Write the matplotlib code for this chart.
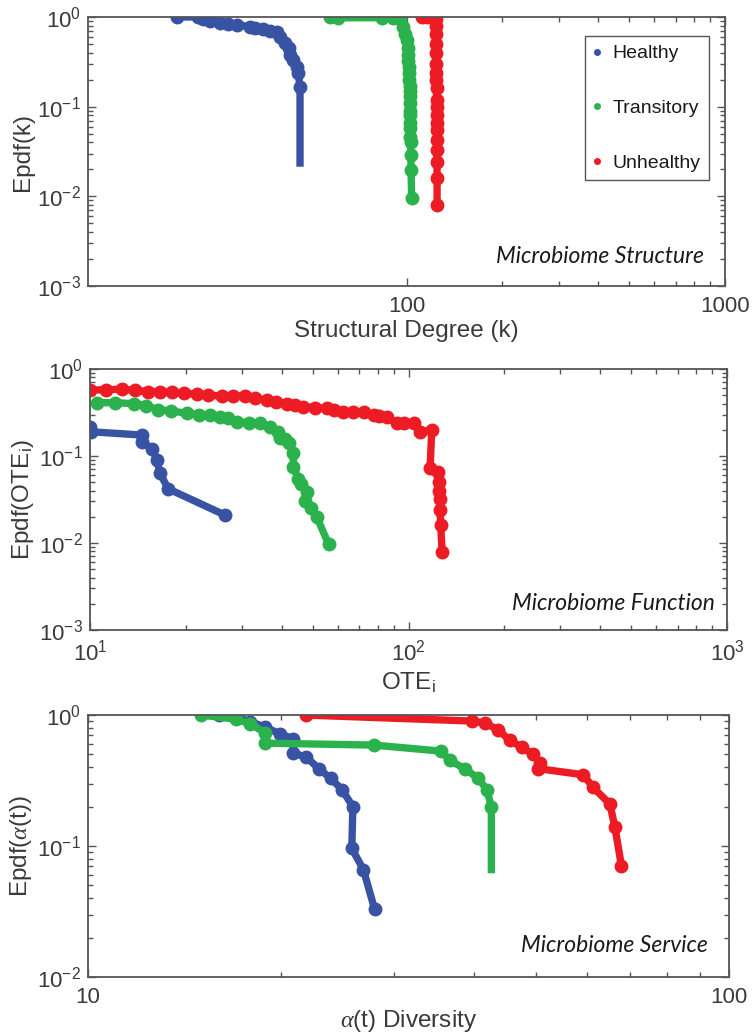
import matplotlib
matplotlib.use("Agg")
import matplotlib.pyplot as plt
from matplotlib.lines import Line2D
from matplotlib.ticker import FixedLocator, NullFormatter

plt.rcParams['font.family'] = ['Liberation Sans', 'DejaVu Sans']
plt.rcParams['mathtext.fontset'] = 'custom'
plt.rcParams['mathtext.rm'] = 'Liberation Sans'
plt.rcParams['mathtext.it'] = 'Liberation Serif:italic'
plt.rcParams['mathtext.bf'] = 'Liberation Sans:bold'

# DATA
# structure panel: Epdf of structural degree
s_healthy_x = [19.0, 22.2, 23.0, 24.2, 26.0, 27.5, 29.3, 32.3, 33.5, 35.5, 37.3, 39.1, 40.1, 41.6, 42.6, 43.1, 44.1, 45.2, 45.7, 46.3, 46.3]
s_healthy_y = [1.0, 1.0, 0.95, 0.91, 0.865, 0.84, 0.815, 0.78, 0.76, 0.73, 0.70, 0.68, 0.60, 0.51, 0.45, 0.38, 0.33, 0.28, 0.235, 0.167, 0.0214]
s_trans_x = [57.5, 61.1, 83.6, 91.0, 95.4, 97.8, 99.0, 100.2, 100.8, 101.2, 101.4, 101.6, 101.8, 102.0, 102.2, 102.2, 102.3,
             102.4, 102.5, 102.6, 102.7, 102.8, 102.9, 103.0, 103.2, 103.3, 103.8]
s_trans_y = [1.0, 0.98, 0.98, 0.98, 0.95, 0.78, 0.65, 0.55, 0.45, 0.38, 0.32, 0.28, 0.24, 0.2, 0.17, 0.15, 0.13,
             0.11, 0.09, 0.08, 0.066, 0.058, 0.046, 0.04, 0.029, 0.0195, 0.0096]
s_unh_x = [111.6, 116.0, 121.0, 123.5, 124.0, 124.0, 124.0, 124.0, 124.0, 124.0, 124.0, 124.2, 124.2, 124.3, 124.4, 124.5,
           124.5, 124.5, 124.5, 124.6, 124.7, 124.7]
s_unh_y = [1.0, 1.0, 1.0, 0.95, 0.8, 0.65, 0.5, 0.4, 0.3, 0.24, 0.2, 0.16, 0.12, 0.1, 0.08, 0.066, 0.055, 0.043, 0.033,
           0.024, 0.016, 0.008]

# function panel: Epdf of OTE_i
f_healthy_x = [10.0, 10.1, 14.6, 14.6, 15.7, 16.2, 16.6, 17.6, 26.5]
f_healthy_y = [0.214, 0.19, 0.174, 0.146, 0.12, 0.09, 0.063, 0.042, 0.021]
f_trans_x = [10.5, 12.0, 13.7, 15.0, 16.4, 18.0, 20.1, 22.0, 23.8, 25.6, 27.2, 28.9, 31.5, 34.2, 36.7, 39.0, 39.5, 41.0,
             42.0, 43.5, 43.5, 45.1, 46.0, 47.9, 47.3, 49.5, 51.5, 56.1]
f_trans_y = [0.41, 0.41, 0.40, 0.38, 0.34, 0.33, 0.31, 0.30, 0.296, 0.283, 0.27, 0.248, 0.24, 0.237, 0.217, 0.19, 0.16, 0.155,
             0.14, 0.107, 0.075, 0.055, 0.048, 0.039, 0.03, 0.025, 0.020, 0.0097]
f_unh_x = [10.0, 11.2, 12.6, 13.8, 15.2, 16.6, 18.1, 19.8, 21.6, 23.5, 25.9, 28.2, 30.7, 33.0, 35.9, 38.5, 41.5, 44.0, 46.8,
           51.0, 55.3, 58.5, 62.5, 67.0, 72.3, 77.7, 81.0, 85.5, 91.9, 97.0, 103.8, 108.7, 118.3,
           116.9, 124.1, 124.5, 124.8, 125.2, 125.6, 126.2, 127.5]
f_unh_y = [0.57, 0.58, 0.585, 0.57, 0.55, 0.55, 0.54, 0.53, 0.51, 0.50, 0.49, 0.49, 0.49, 0.46, 0.44, 0.42, 0.40, 0.385, 0.37,
           0.36, 0.353, 0.34, 0.32, 0.32, 0.32, 0.296, 0.29, 0.283, 0.237, 0.24, 0.237, 0.19, 0.2,
           0.072, 0.066, 0.05, 0.04, 0.032, 0.024, 0.016, 0.0079]

# service panel: Epdf of alpha diversity
v_healthy_x = [16.0, 17.0, 17.9, 18.9, 19.9, 20.9, 20.9, 21.9, 22.9, 23.9, 24.9, 25.9, 25.8, 26.9, 28.0]
v_healthy_y = [1.0, 0.97, 0.89, 0.81, 0.72, 0.66, 0.51, 0.48, 0.39, 0.33, 0.27, 0.20, 0.096, 0.066, 0.033]
v_trans_x = [15.0, 17.0, 17.9, 18.9, 18.9, 27.9, 35.6, 36.7, 38.7, 40.6, 41.9, 42.6, 42.6]
v_trans_y = [1.0, 0.93, 0.86, 0.73, 0.61, 0.59, 0.53, 0.45, 0.39, 0.33, 0.27, 0.20, 0.062]
v_unh_x = [21.9, 39.7, 41.6, 43.7, 45.5, 47.5, 49.5, 50.7, 50.4, 59.3, 61.4, 65.2, 66.4, 68.0]
v_unh_y = [1.0, 0.9, 0.87, 0.77, 0.64, 0.57, 0.50, 0.43, 0.39, 0.35, 0.28, 0.21, 0.14, 0.07]

labels = ['Healthy', 'Transitory', 'Unhealthy']
colors = ['#3953A4', '#2BB24C', '#ED1C24']
tc = '#3a3a3a'

fig = plt.figure(figsize=(7.53, 10.36), dpi=100)
ax1 = fig.add_axes([0.1169, 0.7239, 0.846, 0.2597])
ax2 = fig.add_axes([0.1195, 0.3919, 0.846, 0.2519])
ax3 = fig.add_axes([0.1169, 0.0569, 0.851, 0.2529])


def curve(ax, x, y, c, skip_last=False):
    idx = list(range(len(x) - 1)) if skip_last else list(range(len(x)))
    ax.plot(x, y, '-', color=c, lw=5.3, marker='o', ms=9, markevery=idx,
            solid_capstyle='butt', solid_joinstyle='round')


curve(ax1, s_healthy_x, s_healthy_y, colors[0], skip_last=True)
curve(ax1, s_trans_x, s_trans_y, colors[1])
curve(ax1, s_unh_x, s_unh_y, colors[2])

curve(ax2, f_healthy_x, f_healthy_y, colors[0])
curve(ax2, f_trans_x, f_trans_y, colors[1])
curve(ax2, f_unh_x, f_unh_y, colors[2])

curve(ax3, v_healthy_x, v_healthy_y, colors[0])
curve(ax3, v_trans_x, v_trans_y, colors[1], skip_last=True)
curve(ax3, v_unh_x, v_unh_y, colors[2])

for ax in (ax1, ax2, ax3):
    ax.set_xscale('log')
    ax.set_yscale('log')
    for s in ax.spines.values():
        s.set_color('#555555')
        s.set_linewidth(1.3)
    ax.tick_params(which='both', direction='in', top=True, right=True,
                   colors='#555555', labelcolor=tc, labelsize=16, width=1.0)
    ax.tick_params(which='major', length=6)
    ax.tick_params(which='minor', length=3.5)
    ax.tick_params(axis='x', which='both', pad=7)
    ax.tick_params(axis='y', which='both', pad=5)

# top panel
ax1.set_xlim(10, 1000)
ax1.set_ylim(1e-3, 1)
ax1.set_xticks([100, 1000], labels=['100', '1000'])
ax1.xaxis.set_minor_locator(FixedLocator([200, 300, 400, 500, 600, 700, 800, 900]))
ax1.xaxis.set_minor_formatter(NullFormatter())
ax1.set_yticks([1e-3, 1e-2, 1e-1, 1])
ax1.set_xlabel('Structural Degree (k)', fontsize=17.5, color=tc, labelpad=2)
ax1.set_ylabel('Epdf(k)', fontsize=17.5, color=tc, labelpad=2)
ax1.text(0.967, 0.11, 'Microbiome Structure', transform=ax1.transAxes, ha='right', va='center',
         fontsize=16.5, style='italic', family='Lato', color='#1a1a1a')

handles = [Line2D([], [], ls='none', marker='o', ms=4, color=c) for c in colors]
leg = ax1.legend(handles, labels, loc='upper right', bbox_to_anchor=(0.975, 0.929),
                 fontsize=14, labelspacing=1.9, handlelength=0.3, handletextpad=0.64,
                 borderpad=0.45, borderaxespad=0, fancybox=False, framealpha=1, edgecolor='#555555')
leg.get_frame().set_linewidth(1.0)
for t in leg.get_texts():
    t.set_color('#1a1a1a')

# middle panel
ax2.set_xlim(10, 1000)
ax2.set_ylim(1e-3, 1)
ax2.set_yticks([1e-3, 1e-2, 1e-1, 1])
ax2.set_xlabel(r'OTE$_\mathrm{i}$', fontsize=17.5, color=tc, labelpad=4)
ax2.set_ylabel(r'Epdf(OTE$_\mathrm{i}$)', fontsize=17.5, color=tc, labelpad=2)
ax2.text(0.981, 0.103, 'Microbiome Function', transform=ax2.transAxes, ha='right', va='center',
         fontsize=16.5, style='italic', family='Lato', color='#1a1a1a')

# bottom panel
ax3.set_xlim(10, 100)
ax3.set_ylim(1e-2, 1)
ax3.set_xticks([10, 100], labels=['10', '100'])
ax3.xaxis.set_minor_formatter(NullFormatter())
ax3.set_yticks([1e-2, 1e-1, 1])
ax3.set_xlabel(r'$\alpha$(t) Diversity', fontsize=17.5, color=tc, labelpad=0)
ax3.set_ylabel(r'Epdf($\alpha$(t))', fontsize=17.5, color=tc, labelpad=2)
ax3.text(0.967, 0.122, 'Microbiome Service', transform=ax3.transAxes, ha='right', va='center',
         fontsize=16.5, style='italic', family='Lato', color='#1a1a1a')

fig.savefig('out.png', dpi=100)
